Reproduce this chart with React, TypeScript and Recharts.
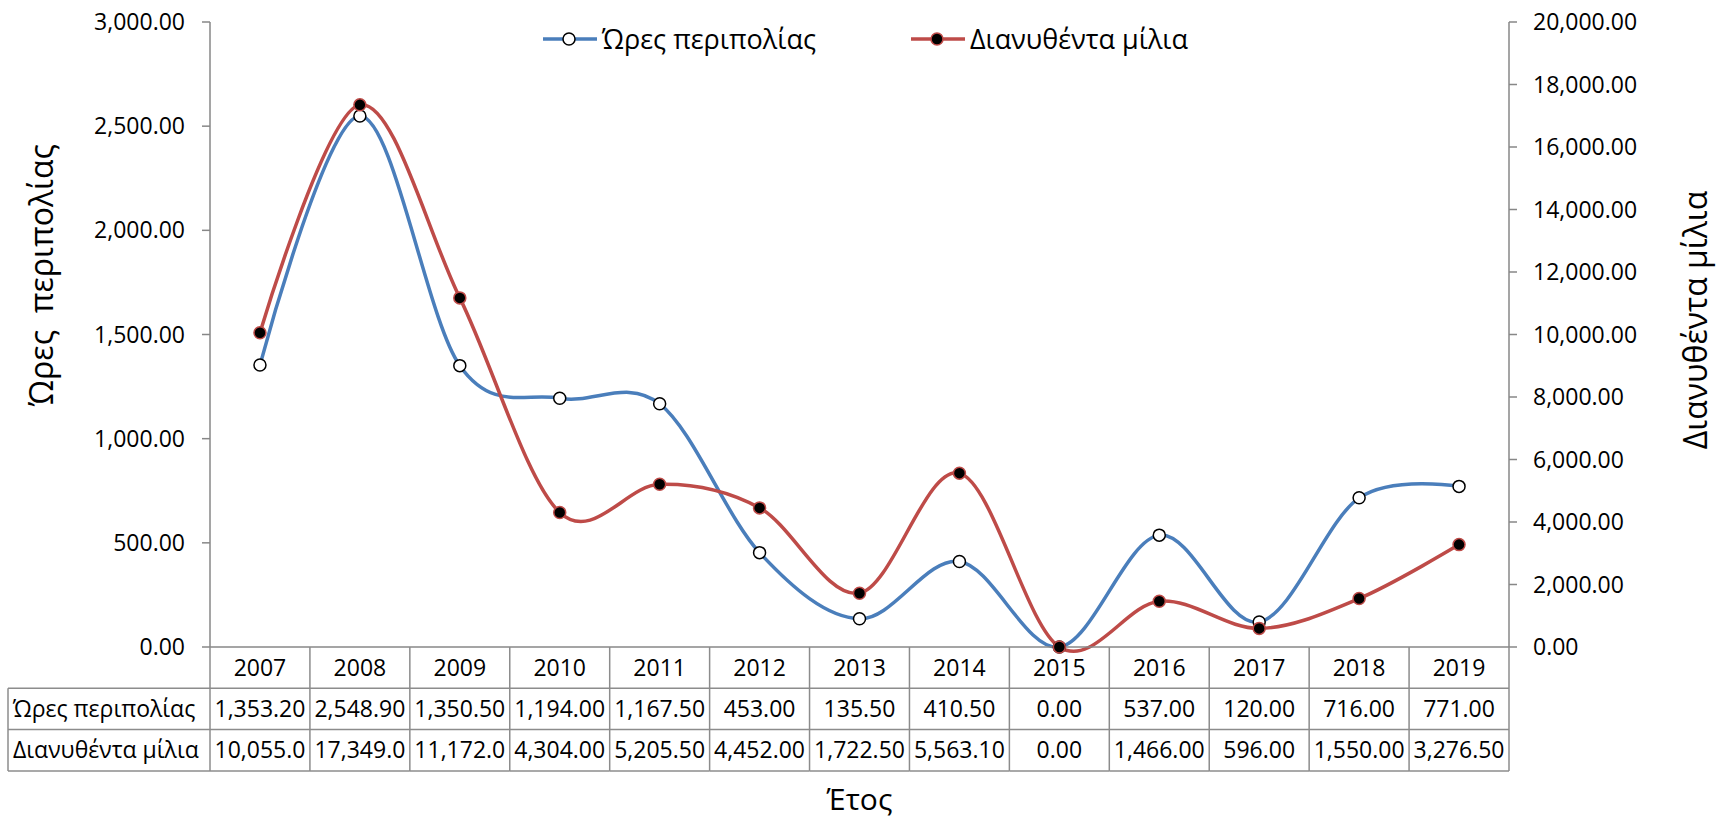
import React from 'react';
import { LineChart, Line, XAxis, YAxis, Legend } from 'recharts';

const years = ['2007', '2008', '2009', '2010', '2011', '2012', '2013', '2014', '2015', '2016', '2017', '2018', '2019'];
const patrolHours = [1353.2, 2548.9, 1350.5, 1194.0, 1167.5, 453.0, 135.5, 410.5, 0.0, 537.0, 120.0, 716.0, 771.0];
const milesTravelled = [10055.0, 17349.0, 11172.0, 4304.0, 5205.5, 4452.0, 1722.5, 5563.1, 0.0, 1466.0, 596.0, 1550.0, 3276.5];
const hoursTicks = [0, 500, 1000, 1500, 2000, 2500, 3000];
const milesTicks = [0, 2000, 4000, 6000, 8000, 10000, 12000, 14000, 16000, 18000, 20000];
const hoursLabel = 'Ώρες περιπολίας';
const milesLabel = 'Διανυθέντα μίλια';
const leftAxisTitle = 'Ώρες  περιπολίας';
const rightAxisTitle = 'Διανυθέντα μίλια';
const xAxisTitle = 'Έτος';

const W = 1721;
const H = 819;
const LEFT_W = 210;
const RIGHT_W = 212;
const TOP = 22;
const X_H = 172;
const PLOT_W = W - LEFT_W - RIGHT_W;
const BAND = PLOT_W / years.length;
const ROW_H = 41.3;
const TABLE_LEFT = 8;
const FONT = '"Open Sans", sans-serif';
const GRID = '#8C8C8C';
const AXIS = '#878787';
const BLUE = '#4A7EBB';
const RED = '#BE4B48';

const fmt = (v: number) => {
  const s = v.toFixed(2);
  const [i, d] = s.split('.');
  return i.replace(/\B(?=(\d{3})+(?!\d))/g, ',') + '.' + d;
};
const cellText = (v: number) => fmt(v).slice(0, 8);

const data = years.map((year, i) => ({ year, hours: patrolHours[i], miles: milesTravelled[i] }));

// Cardinal (Catmull-Rom like) smoothing similar to Excel's smoothed lines
function smoothCurve(context: any) {
  const k = 1 / 6;
  let x0 = NaN, x1 = NaN, x2 = NaN, y0 = NaN, y1 = NaN, y2 = NaN, pt = 0;
  const seg = (x: number, y: number) => {
    context.bezierCurveTo(x1 + k * (x2 - x0), y1 + k * (y2 - y0), x2 + k * (x1 - x), y2 + k * (y1 - y), x2, y2);
  };
  return {
    areaStart() {},
    areaEnd() {},
    lineStart() {
      x0 = x1 = x2 = y0 = y1 = y2 = NaN;
      pt = 0;
    },
    lineEnd() {
      if (pt === 2) context.lineTo(x2, y2);
      else if (pt === 3) seg(x1, y1);
    },
    point(x: number, y: number) {
      x = +x;
      y = +y;
      if (pt === 0) {
        pt = 1;
        context.moveTo(x, y);
      } else if (pt === 1) {
        pt = 2;
        x1 = x;
        y1 = y;
      } else {
        pt = 3;
        seg(x, y);
      }
      x0 = x1; x1 = x2; x2 = x;
      y0 = y1; y1 = y2; y2 = y;
    },
  };
}

const seriesStyle: Record<string, { color: string; dotFill: string; dotStroke: string }> = {
  hours: { color: BLUE, dotFill: '#FFFFFF', dotStroke: '#000000' },
  miles: { color: RED, dotFill: '#000000', dotStroke: RED },
};

const TableTick = (props: any) => {
  const { x, y, payload } = props;
  const i = years.indexOf(String(payload.value));
  const half = BAND / 2;
  const l = x - half;
  const r = x + half;
  const rows = [y, y + ROW_H, y + 2 * ROW_H, y + 3 * ROW_H];
  const ln = { stroke: GRID, strokeWidth: 1.5 };
  const txt = { fontSize: 23, fill: '#000', fontFamily: FONT };
  const mid = (a: number, b: number) => (a + b) / 2;
  return (
    <g>
      <line x1={r} y1={rows[0]} x2={r} y2={rows[3]} {...ln} />
      {i === 0 && <line x1={l} y1={rows[0]} x2={l} y2={rows[3]} {...ln} />}
      <line x1={l} y1={rows[1]} x2={r} y2={rows[1]} {...ln} />
      <line x1={l} y1={rows[2]} x2={r} y2={rows[2]} {...ln} />
      <line x1={l} y1={rows[3]} x2={r} y2={rows[3]} {...ln} />
      <text x={x} y={mid(rows[0], rows[1])} dy="0.355em" textAnchor="middle" {...txt}>{payload.value}</text>
      <text x={x} y={mid(rows[1], rows[2])} dy="0.355em" textAnchor="middle" {...txt}>{cellText(patrolHours[i])}</text>
      <text x={x} y={mid(rows[2], rows[3])} dy="0.355em" textAnchor="middle" {...txt}>{cellText(milesTravelled[i])}</text>
      {i === 0 && (
        <g>
          <line x1={TABLE_LEFT} y1={rows[1]} x2={l} y2={rows[1]} {...ln} />
          <line x1={TABLE_LEFT} y1={rows[2]} x2={l} y2={rows[2]} {...ln} />
          <line x1={TABLE_LEFT} y1={rows[3]} x2={l} y2={rows[3]} {...ln} />
          <line x1={TABLE_LEFT} y1={rows[1]} x2={TABLE_LEFT} y2={rows[3]} {...ln} />
          <text x={TABLE_LEFT + 5} y={mid(rows[1], rows[2])} dy="0.355em" {...txt}>{hoursLabel}</text>
          <text x={TABLE_LEFT + 5} y={mid(rows[2], rows[3])} dy="0.355em" {...txt}>{milesLabel}</text>
        </g>
      )}
    </g>
  );
};

const LeftTitle = () => (
  <text x={40} y={275} transform="rotate(-90 40 275)" textAnchor="middle" dominantBaseline="central" fontSize={32} fill="#000" fontFamily={FONT} style={{ whiteSpace: 'pre' }}>
    {leftAxisTitle}
  </text>
);
const RightTitle = () => (
  <text x={1694} y={320} transform="rotate(-90 1694 320)" textAnchor="middle" dominantBaseline="central" fontSize={32} fill="#000" fontFamily={FONT}>
    {rightAxisTitle}
  </text>
);
const BottomTitle = () => (
  <text x={LEFT_W + PLOT_W / 2} y={810} textAnchor="middle" fontSize={30} fill="#000" fontFamily={FONT}>
    {xAxisTitle}
  </text>
);

const LegendContent = (props: any) => {
  const items = props.payload || [];
  return (
    <div style={{ display: 'flex', justifyContent: 'center', alignItems: 'center', paddingLeft: 10, height: 36, fontFamily: FONT, fontSize: 27, color: '#000' }}>
      {items.map((it: any, k: number) => {
        const st = seriesStyle[it.dataKey] || seriesStyle.hours;
        return (
          <div key={k} style={{ display: 'flex', alignItems: 'center', marginLeft: k ? 95 : 0 }}>
            <svg width={54} height={20} style={{ display: 'block' }}>
              <line x1={0} y1={10} x2={54} y2={10} stroke={st.color} strokeWidth={3.5} />
              <circle cx={26} cy={10} r={6} fill={st.dotFill} stroke={st.dotStroke} strokeWidth={1.5} />
            </svg>
            <span style={{ marginLeft: 5, whiteSpace: 'nowrap', lineHeight: '36px' }}>{it.value}</span>
          </div>
        );
      })}
    </div>
  );
};

export default function App() {
  return (
    <div style={{ position: 'absolute', left: 0, top: 0, width: W, height: H, background: '#fff', fontFamily: FONT }}>
      <LineChart width={W} height={H} data={data} margin={{ top: TOP, right: 0, bottom: 0, left: 0 }}>
        <XAxis
          dataKey="year"
          xAxisId="x"
          scale="point"
          padding={{ left: BAND / 2, right: BAND / 2 }}
          interval={0}
          height={X_H}
          tickLine={false}
          tickSize={0}
          tickMargin={0}
          axisLine={{ stroke: AXIS, strokeWidth: 1.5 }}
          tick={<TableTick />}
          label={<BottomTitle />}
        />
        <YAxis
          yAxisId="left"
          orientation="left"
          width={LEFT_W}
          domain={[0, 3000]}
          ticks={hoursTicks}
          tickFormatter={fmt}
          tickSize={8}
          tickMargin={17}
          tick={{ fontSize: 23, fill: '#000', fontFamily: FONT }}
          axisLine={{ stroke: AXIS, strokeWidth: 1.5 }}
          tickLine={{ stroke: AXIS, strokeWidth: 1.5 }}
          label={<LeftTitle />}
        />
        <YAxis
          yAxisId="right"
          orientation="right"
          width={RIGHT_W}
          domain={[0, 20000]}
          ticks={milesTicks}
          tickFormatter={fmt}
          tickSize={8}
          tickMargin={16}
          tick={{ fontSize: 23, fill: '#000', fontFamily: FONT }}
          axisLine={{ stroke: AXIS, strokeWidth: 1.5 }}
          tickLine={{ stroke: AXIS, strokeWidth: 1.5 }}
          label={<RightTitle />}
        />
        <Legend
          layout="horizontal"
          verticalAlign="middle"
          align="center"
          content={<LegendContent />}
          wrapperStyle={{ top: 21, left: 0, width: W }}
        />
        <Line
          xAxisId="x"
          yAxisId="left"
          dataKey="hours"
          name={hoursLabel}
          type={smoothCurve as any}
          stroke={BLUE}
          strokeWidth={3.5}
          dot={{ r: 6, fill: '#FFFFFF', stroke: '#000000', strokeWidth: 1.5 }}
          activeDot={false}
          isAnimationActive={false}
        />
        <Line
          xAxisId="x"
          yAxisId="right"
          dataKey="miles"
          name={milesLabel}
          type={smoothCurve as any}
          stroke={RED}
          strokeWidth={3.5}
          dot={{ r: 6, fill: '#000000', stroke: RED, strokeWidth: 1.5 }}
          activeDot={false}
          isAnimationActive={false}
        />
      </LineChart>
    </div>
  );
}
